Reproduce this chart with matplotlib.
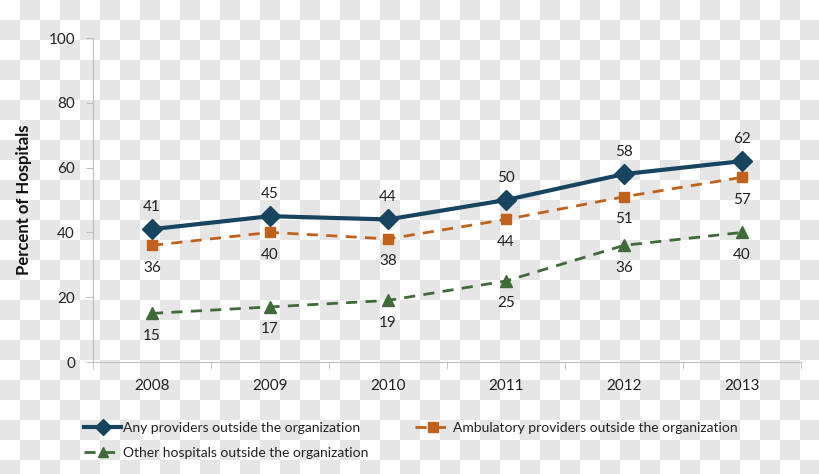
import matplotlib
matplotlib.use("Agg")
import matplotlib.pyplot as plt
import numpy as np
from matplotlib.lines import Line2D
from matplotlib.patches import Rectangle

FONT = ["Lato", "DejaVu Sans"]
plt.rcParams["font.family"] = FONT

years = ["2008", "2009", "2010", "2011", "2012", "2013"]
any_prov = [41, 45, 44, 50, 58, 62]
ambulatory = [36, 40, 38, 44, 51, 57]
other_hosp = [15, 17, 19, 25, 36, 40]

NAVY = "#17455f"
ORANGE = "#c0621b"
GREEN = "#3f6b38"
AXIS = "#bfbfbf"
TEXT = "#222222"
CHECK = "#e6e6e6"

W, H = 820, 474
fig = plt.figure(figsize=(W / 100, H / 100), dpi=100, facecolor="white")

# checkerboard background (20 px squares, white at top-left)
bg = fig.add_axes([0, 0, 1, 1], zorder=0)
bg.set_xlim(0, W); bg.set_ylim(H, 0); bg.axis("off")
for r in range(H // 20 + 1):
    for c in range(W // 20 + 1):
        if (r + c) % 2:
            bg.add_patch(Rectangle((c * 20, r * 20), 20, 20, fc=CHECK, ec="none"))

ax = fig.add_axes([93 / W, (H - 362) / H, 708 / W, 324 / H], zorder=1)
ax.patch.set_alpha(0)
x = np.arange(len(years))

ax.plot(x, any_prov, color=NAVY, lw=3, marker="D", ms=10)
ax.plot(x, ambulatory, color=ORANGE, lw=2, ls=(0, (4, 3)), marker="s", ms=7)
ax.plot(x, other_hosp, color=GREEN, lw=2, ls=(0, (4, 3)), marker="^", ms=8)

for xi, v in zip(x, any_prov):
    ax.annotate(str(v), (xi, v), xytext=(0, 16), textcoords="offset points",
                ha="center", va="center", fontsize=11, color=TEXT)
for series in (ambulatory, other_hosp):
    for xi, v in zip(x, series):
        ax.annotate(str(v), (xi, v), xytext=(0, -16), textcoords="offset points",
                    ha="center", va="center", fontsize=11, color=TEXT)

ax.set_xlim(-0.5, len(years) - 0.5)
ax.set_ylim(0, 100)
ax.set_yticks([0, 20, 40, 60, 80, 100])
ax.set_xticks(x)
ax.set_xticklabels(years)
ax.set_xticks(np.arange(-0.5, len(years)), minor=True)
ax.tick_params(axis="x", which="major", length=0, pad=12, labelsize=11, labelcolor=TEXT)
ax.tick_params(axis="x", which="minor", length=5, color=AXIS, direction="out")
ax.tick_params(axis="y", length=5, color=AXIS, pad=8, labelsize=11, labelcolor=TEXT)
for s in ("top", "right"):
    ax.spines[s].set_visible(False)
for s in ("left", "bottom"):
    ax.spines[s].set_color(AXIS)
ax.set_ylabel("Percent of Hospitals", fontsize=12, fontweight="bold", color="#111111", labelpad=12)

handles = [
    Line2D([], [], color=NAVY, lw=3, marker="D", ms=8),
    Line2D([], [], color=GREEN, lw=2, ls=(0, (4, 3)), marker="^", ms=7),
    Line2D([], [], color=ORANGE, lw=2, ls=(0, (4, 3)), marker="s", ms=7),
]
labels = ["Any providers outside the organization",
          "Other hospitals outside the organization",
          "Ambulatory providers outside the organization"]
fig.legend(handles, labels,
           ncol=2, loc="upper left", bbox_to_anchor=(72 / W, 1 - 409 / H),
           frameon=False, fontsize=10, handlelength=2.6, handletextpad=0.2,
           columnspacing=3.3, labelspacing=0.95, labelcolor=TEXT)

fig.savefig("out.png", dpi=100)
